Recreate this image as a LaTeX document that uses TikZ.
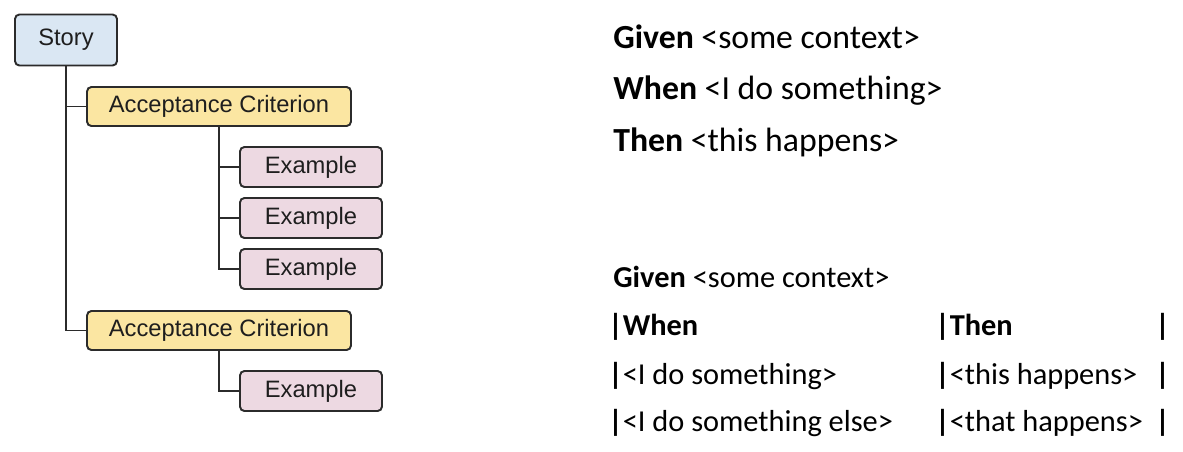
\documentclass[tikz,border=0pt]{standalone}
\usepackage{fontspec}
\setmainfont{Carlito}
\newfontfamily\boxfont{Liberation Sans}
\usepackage{tikz}
\usetikzlibrary{positioning}
\definecolor{bxline}{HTML}{2B2B2B}
\definecolor{bxstory}{HTML}{DAE7F3}
\definecolor{bxcrit}{HTML}{FBE6A2}
\definecolor{bxexmp}{HTML}{EDD9E2}
\definecolor{bxink}{HTML}{1E1E1E}
\tikzset{
  treebox/.style={draw=bxline,line width=1.1pt,rounded corners=2.5pt,inner sep=0pt,
    font=\boxfont\fontsize{13.5}{16}\selectfont,text=bxink},
  storybox/.style={treebox,fill=bxstory,minimum width=2.04cm,minimum height=1.02cm},
  critbox/.style={treebox,fill=bxcrit,minimum width=5.28cm,minimum height=0.78cm},
  exmpbox/.style={treebox,fill=bxexmp,minimum width=2.84cm,minimum height=0.8cm},
  branch/.style={draw=bxline,line width=1.1pt},
  gwtbig/.style={anchor=base west,inner sep=0pt,font=\fontsize{19.2}{23}\selectfont},
  gwtsmall/.style={anchor=base west,inner sep=0pt,font=\fontsize{17.3}{21}\selectfont}
}

\begin{document}
\begin{tikzpicture}[x=0.02cm,y=-0.02cm]
  \useasboundingbox (0,0) rectangle (1183,451);
  % tree of story, criteria and examples
  \node[storybox] (story) at (66,40) {\raisebox{-1pt}{Story}};
  \node[critbox] (crit1) at (219,106.5) {Acceptance Criterion};
  \node[exmpbox] (ex1) at (311,167) {Example};
  \node[exmpbox] (ex2) at (311,218) {Example};
  \node[exmpbox] (ex3) at (311,269) {Example};
  \node[critbox] (crit2) at (219,330.5) {Acceptance Criterion};
  \node[exmpbox] (ex4) at (311,391) {Example};
  \draw[branch] (story.south) |- (crit1.west);
  \draw[branch] (story.south) |- (crit2.west);
  \draw[branch] (crit1.south) |- (ex1.west);
  \draw[branch] (crit1.south) |- (ex2.west);
  \draw[branch] (crit1.south) |- (ex3.west);
  \draw[branch] (crit2.south) |- (ex4.west);
  % given / when / then
  \node[gwtbig] (given) at (613,48) {\textbf{Given} <some context>};
  \node[gwtbig] (when) at (613,99) {\textbf{When} <I do something>};
  \node[gwtbig] (then) at (613,151) {\textbf{Then} <this happens>};
  % table form
  \node[gwtsmall] (tgiven) at (613,287) {\textbf{Given} <some context>};
  \node[gwtsmall] (thwhen) at (608,335) {\textbf{|When}};
  \node[gwtsmall] (ththen) at (935,335) {\textbf{|Then}};
  \node[gwtsmall] (thend) at (1155,335) {\textbf{|}};
  \node[gwtsmall] (r1when) at (608,384) {\textbf{|}<I do something>};
  \node[gwtsmall] (r1then) at (935,384) {\textbf{|}<this happens>};
  \node[gwtsmall] (r1end) at (1155,384) {\textbf{|}};
  \node[gwtsmall] (r2when) at (608,431) {\textbf{|}<I do something else>};
  \node[gwtsmall] (r2then) at (935,431) {\textbf{|}<that happens>};
  \node[gwtsmall] (r2end) at (1155,431) {\textbf{|}};
\end{tikzpicture}
\end{document}
